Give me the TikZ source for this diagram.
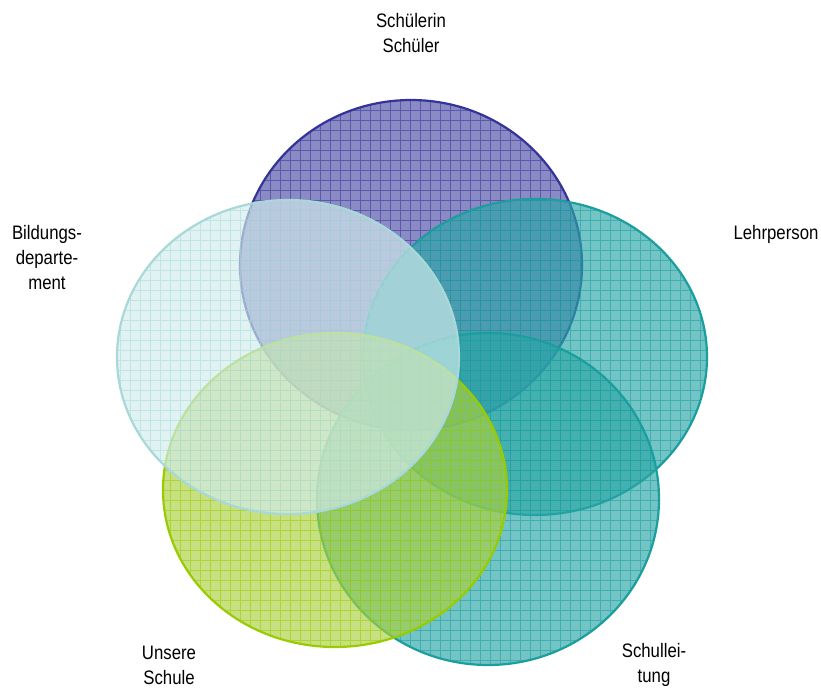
\documentclass[tikz,border=0pt]{standalone}
\usepackage{fontspec}
\setmainfont{Liberation Sans}
\newfontfamily\lblfont[FakeStretch=0.86]{Liberation Sans}
\definecolor{cPurple}{HTML}{333399}
\definecolor{cPurpleF}{HTML}{4D4DA6}
\definecolor{cTeal}{HTML}{1A9E9E}
\definecolor{cTealF}{HTML}{2BA6A6}
\definecolor{cGreen}{HTML}{99CC00}
\definecolor{cGreenF}{HTML}{AAD040}
\definecolor{cLight}{HTML}{A8D8D8}
\definecolor{cLightF}{HTML}{D2ECEC}
\tikzset{
  lbl/.style={font=\lblfont\fontsize{19.5}{25}\selectfont, align=center, inner sep=0pt, text=black},
}
\newcommand{\vset}[6]{% center x, y, rx, ry, border color, fill color
  \fill[#6, fill opacity=0.66] (#1,#2) ellipse [x radius=#3, y radius=#4];
  \begin{scope}
    \clip (#1,#2) ellipse [x radius=#3, y radius=#4];
    \draw[#5, line width=0.7pt, opacity=0.55, step=10pt] (#1-#3-5,#2-#4-5) grid (#1+#3+5,#2+#4+5);
  \end{scope}
  \draw[#5, line width=2.2pt] (#1,#2) ellipse [x radius=#3, y radius=#4];
}
\begin{document}
\begin{tikzpicture}[x=1pt,y=-1pt]
\useasboundingbox (0,0) rectangle (821,689);
\vset{411}{265}{171}{165}{cPurple}{cPurpleF}
\vset{535}{357}{172}{158}{cTeal}{cTealF}
\vset{488}{499}{171}{166}{cTeal}{cTealF}
\vset{335}{490}{172}{157}{cGreen}{cGreenF}
\vset{288}{357}{171}{157}{cLight}{cLightF}
\node[lbl] (schueler) at (411,33) {Schülerin\\Schüler};
\node[lbl] (lehrer) at (776,234) {Lehrperson};
\node[lbl] (bildung) at (47,258) {Bildungs-\\departe-\\ment};
\node[lbl] (schule) at (169,665) {Unsere\\Schule};
\node[lbl] (leitung) at (654,665) {Schullei-\\tung};
\end{tikzpicture}
\end{document}
